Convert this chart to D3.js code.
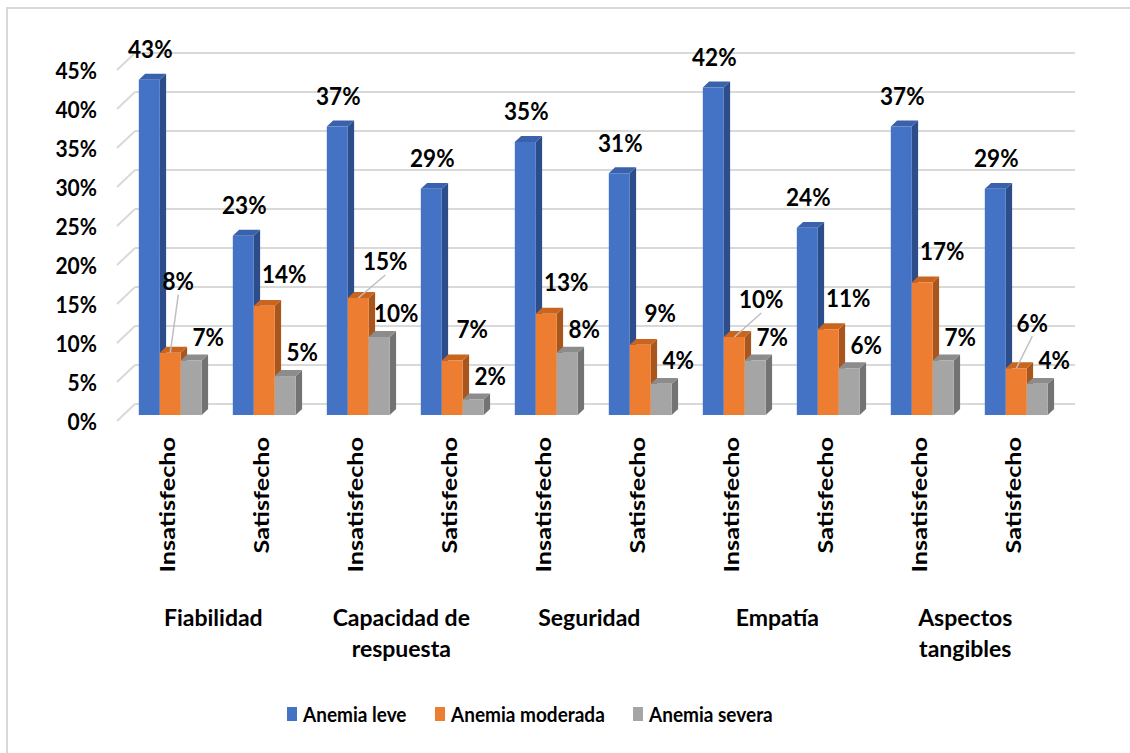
<!DOCTYPE html>
<html>
<head>
<meta charset="utf-8">
<script src="https://cdn.jsdelivr.net/npm/d3@7"></script>
<style>
  html, body { margin: 0; padding: 0; background: #fff; }
  svg { display: block; font-family: Lato, "Noto Sans", sans-serif; }
</style>
</head>
<body>
<svg id="chart" width="1130" height="753"></svg>
<script>
// Dimensions (SERVQUAL) and satisfaction level under each one
const dimensions = ["Fiabilidad", "Capacidad de respuesta", "Seguridad", "Empatía", "Aspectos tangibles"];
const dimensionLines = [["Fiabilidad"], ["Capacidad de", "respuesta"], ["Seguridad"], ["Empatía"], ["Aspectos", "tangibles"]];
const levels = ["Insatisfecho", "Satisfecho"];

// Series (percentage of patients), one value per dimension × level
const seriesNames = ["Anemia leve", "Anemia moderada", "Anemia severa"];
const anemiaLeve     = [43, 23, 37, 29, 35, 31, 42, 24, 37, 29];
const anemiaModerada = [ 8, 14, 15,  7, 13,  9, 10, 11, 17,  6];
const anemiaSevera   = [ 7,  5, 10,  2,  8,  4,  7,  6,  7,  4];
const seriesValues = [anemiaLeve, anemiaModerada, anemiaSevera];

const yTicks = [0, 5, 10, 15, 20, 25, 30, 35, 40, 45];

// Styling
const faceColors = ["#4472C4", "#ED7D31", "#A5A5A5"];
const sideColors = ["#2C4D8A", "#A9561E", "#737373"];
const topColors  = ["#3A62AC", "#C9651F", "#8C8C8C"];

// Orange labels that were moved off the bar, drawn with a leader line
const movedLabels = { 0: [8, -72], 2: [27, -37], 6: [27, -38], 9: [16, -46] };

const svg = d3.select("#chart");

// Outer chart frame
svg.append("rect")
  .attr("x", 7).attr("y", 8).attr("width", 1140).attr("height", 760)
  .attr("fill", "none").attr("stroke", "#d9d9d9").attr("stroke-width", 2);

// Oblique projection: depth d in [0,1] shifts right and up
const DX = 18, DY = 17;
const proj = (x, y, d) => [x + d * DX, y - d * DY];

const wallX = 117, rightX = 1075;
const cats = d3.range(anemiaLeve.length);

const x = d3.scaleBand()
  .domain(cats)
  .range([wallX, rightX - DX])
  .paddingInner(0.33)
  .paddingOuter(0.165);

const xs = d3.scaleBand().domain([0, 1, 2]).range([0, x.bandwidth()]);

const y = d3.scaleLinear().domain([0, 45]).range([421, 70]);

// Gridlines on the back wall and their diagonals on the side wall
const grid = svg.append("g").attr("stroke", "#d9d9d9").attr("stroke-width", 2).attr("fill", "none");
yTicks.forEach(t => {
  const [bx, by] = proj(wallX, y(t), 1);
  grid.append("line").attr("x1", bx).attr("y1", by).attr("x2", rightX).attr("y2", by);
  grid.append("line").attr("x1", wallX).attr("y1", y(t)).attr("x2", bx).attr("y2", by);
});

// Value axis labels
const yAxis = d3.axisLeft(y).tickValues(yTicks).tickFormat(d => d + "%").tickSize(0).tickPadding(0);
const yAxisG = svg.append("g").attr("transform", "translate(97,1)").call(yAxis);
yAxisG.select(".domain").remove();
yAxisG.selectAll("text")
  .attr("font-family", "Lato, sans-serif")
  .attr("font-size", 21).attr("font-weight", 700).attr("fill", "#000")
  .attr("transform", "scale(1,1.07)");

// 3D columns
const dFront = 0.35, dBack = 0.70;
const bars = svg.append("g");
const poly = pts => pts.map(p => p.join(",")).join(" ");

const barGeom = (i, s) => {
  const x0 = x(i) + xs(s), x1 = x0 + xs.bandwidth();
  const v = seriesValues[s][i];
  return { x0, x1, yt: y(v), yb: y(0), v };
};

cats.forEach(i => {
  [0, 1, 2].forEach(s => {
    const g = barGeom(i, s);
    const fTL = proj(g.x0, g.yt, dFront), fTR = proj(g.x1, g.yt, dFront);
    const fBR = proj(g.x1, g.yb, dFront), fBL = proj(g.x0, g.yb, dFront);
    const bTL = proj(g.x0, g.yt, dBack), bTR = proj(g.x1, g.yt, dBack), bBR = proj(g.x1, g.yb, dBack);
    bars.append("polygon").attr("points", poly([fTR, bTR, bBR, fBR])).attr("fill", sideColors[s]);
    bars.append("polygon").attr("points", poly([fTL, bTL, bTR, fTR])).attr("fill", topColors[s]);
    bars.append("polygon").attr("points", poly([fTL, fTR, fBR, fBL])).attr("fill", faceColors[s]);
  });
});

// Data labels
const labelOffsets = [[1, -31], [20, -32], [17, -24]];
const labels = svg.append("g")
  .attr("font-size", 22.5).attr("font-weight", 700).attr("fill", "#000")
  .attr("text-anchor", "middle");

cats.forEach(i => {
  [0, 1, 2].forEach(s => {
    const g = barGeom(i, s);
    const [cx, ty] = proj((g.x0 + g.x1) / 2, g.yt, dFront);
    let off = labelOffsets[s];
    const moved = s === 1 && movedLabels[i];
    if (moved) off = movedLabels[i];
    const lx = cx + off[0], ly = ty + off[1];
    if (moved) {
      labels.append("line")
        .attr("x1", cx).attr("y1", ty)
        .attr("x2", lx).attr("y2", ly + 14)
        .attr("stroke", "#bfbfbf").attr("stroke-width", 1.5);
    }
    labels.append("text")
      .attr("transform", `translate(${lx},${ly}) scale(1,1.09)`)
      .attr("dominant-baseline", "central")
      .text(g.v + "%");
  });
});

// Category labels: satisfaction level (rotated) and dimension name
const catG = svg.append("g").attr("font-weight", 700).attr("fill", "#000");
cats.forEach(i => {
  const cx = proj(x(i) + x.bandwidth() / 2, 0, dFront)[0] - 3;
  catG.append("text")
    .attr("font-size", 21)
    .attr("transform", `translate(${cx},437) rotate(-90) scale(1.2,1)`)
    .attr("text-anchor", "end")
    .attr("dominant-baseline", "central")
    .text(levels[i % 2]);
});
dimensions.forEach((dim, k) => {
  const cx = (proj(x(2 * k) + x.bandwidth() / 2, 0, dFront)[0] + proj(x(2 * k + 1) + x.bandwidth() / 2, 0, dFront)[0]) / 2 - 4;
  dimensionLines[k].forEach((line, j) => {
    catG.append("text")
      .attr("font-size", 23)
      .attr("x", cx).attr("y", 617 + j * 31)
      .attr("text-anchor", "middle")
      .attr("dominant-baseline", "central")
      .text(line);
  });
});

// Legend
const legendX = [287, 435, 633];
const legend = svg.append("g").attr("font-size", 19).attr("font-weight", 700).attr("fill", "#000");
seriesNames.forEach((name, s) => {
  legend.append("rect")
    .attr("x", legendX[s]).attr("y", 707).attr("width", 10).attr("height", 14)
    .attr("fill", faceColors[s]);
  legend.append("text")
    .attr("transform", `translate(${legendX[s] + 16},714) scale(1,1.1)`)
    .attr("dominant-baseline", "central")
    .text(name);
});
</script>
</body>
</html>
